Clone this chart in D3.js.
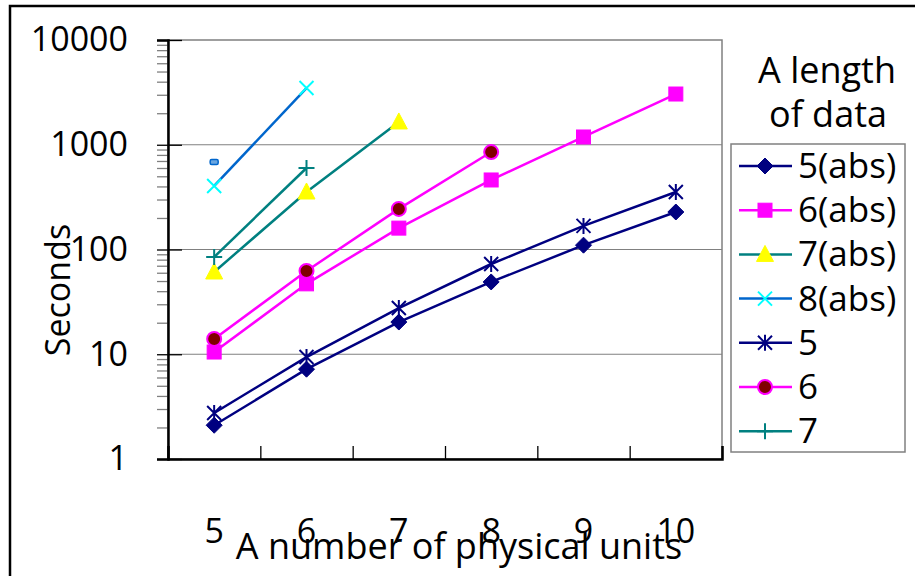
<!DOCTYPE html>
<html>
<head>
<meta charset="utf-8">
<script src="https://cdn.jsdelivr.net/npm/d3@7"></script>
<style>
  body { margin: 0; background: #fff; }
  text { font-family: "Open Sans", sans-serif; fill: #000; }
</style>
</head>
<body>
<script>
var w = 915;
var h = 576;

// ---- data ----
var units = ["5", "6", "7", "8", "9", "10"];
var s5abs = [2.1, 7.2, 20.3, 49, 110, 228];
var s6abs = [10.5, 47, 160, 461, 1186, 3050];
var s7abs = [61, 354, 1650];
var s8abs = [404, 3480];
var s5 = [2.75, 9.4, 27.6, 72.7, 168, 354];
var s6 = [14, 62.4, 244, 852];
var s7 = [84.8, 600];
var s8 = [684];
var yTicks = [1, 10, 100, 1000, 10000];

var series = [
  {name: "5(abs)", values: s5abs, line: "#000080", marker: "diamond", fill: "#000080", stroke: "#000080"},
  {name: "6(abs)", values: s6abs, line: "#FF00FF", marker: "square", fill: "#FF00FF", stroke: "#FF00FF"},
  {name: "7(abs)", values: s7abs, line: "#008080", marker: "triangle", fill: "#FFFF00", stroke: "#FFFF00"},
  {name: "8(abs)", values: s8abs, line: "#0066CC", marker: "x", fill: "none", stroke: "#00FFFF"},
  {name: "5", values: s5, line: "#000080", marker: "star", fill: "none", stroke: "#000080"},
  {name: "6", values: s6, line: "#FF00FF", marker: "circle", fill: "#800000", stroke: "#FF00FF"},
  {name: "7", values: s7, line: "#008080", marker: "plus", fill: "none", stroke: "#008080"},
  {name: "8", values: s8, line: "#0066CC", marker: "dash", fill: "#0066CC", stroke: "#0066CC"}
];

var plotL = 168, plotR = 722, plotT = 40, plotB = 459;

var svg = d3.select("body").append("svg")
    .attr("width", w)
    .attr("height", h);

// outer frame
svg.append("rect")
    .attr("x", 10).attr("y", 6)
    .attr("width", w + 20).attr("height", h + 20)
    .attr("fill", "#fff")
    .attr("stroke", "#000")
    .attr("stroke-width", 2.5);

var x = d3.scaleBand().domain(units).range([plotL, plotR]).padding(0);
var xEdge = d3.scaleLinear().domain([0, units.length]).range([plotL, plotR]);
var y = d3.scaleLog().domain([1, 10000]).range([plotB, plotT]);
function cx(i) { return x(units[i]) + x.bandwidth() / 2; }

// plot area
svg.append("rect")
    .attr("x", plotL).attr("y", plotT)
    .attr("width", plotR - plotL).attr("height", plotB - plotT)
    .attr("fill", "#fff")
    .attr("stroke", "#808080")
    .attr("stroke-width", 1.5);

// gridlines
svg.append("g").selectAll("line")
    .data([10, 100, 1000])
    .enter().append("line")
    .attr("x1", plotL).attr("x2", plotR)
    .attr("y1", function (d) { return y(d); })
    .attr("y2", function (d) { return y(d); })
    .attr("stroke", "#808080")
    .attr("stroke-width", 1.2);

// minor ticks on y
var minor = [];
yTicks.slice(0, -1).forEach(function (t) {
  for (var k = 2; k < 10; k++) minor.push(t * k);
});
svg.append("g")
    .attr("transform", "translate(" + plotL + ",0)")
    .call(d3.axisLeft(y).tickValues(minor).tickSize(11).tickFormat(""))
    .call(function (g) {
      g.select(".domain").remove();
      g.selectAll(".tick line").attr("stroke", "#808080").attr("stroke-width", 1.3);
    });

// major y axis
var yAxis = svg.append("g")
    .attr("transform", "translate(" + plotL + ",0)")
    .call(d3.axisLeft(y).tickValues(yTicks).tickSize(11).tickPadding(29)
      .tickFormat(d3.format("d")));
yAxis.select(".domain").attr("stroke", "#000").attr("stroke-width", 2.5);
yAxis.selectAll(".tick line").attr("x2", 14).attr("x1", -11).attr("stroke", "#000").attr("stroke-width", 1.3);
yAxis.selectAll(".tick text")
    .attr("font-size", 34)
    .attr("font-family", "Open Sans")
    .attr("fill", "#000");

// x axis ticks at category edges
var xAxis = svg.append("g")
    .attr("transform", "translate(0," + plotB + ")")
    .call(d3.axisBottom(xEdge).tickValues(d3.range(1, units.length + 1)).tickSize(-13).tickFormat(""));
xAxis.select(".domain").attr("stroke", "#000").attr("stroke-width", 2.5);
xAxis.selectAll(".tick line").attr("stroke", "#000").attr("stroke-width", 1.3);

// x labels
var xLab = svg.append("g")
    .attr("transform", "translate(0," + plotB + ")")
    .call(d3.axisBottom(x).tickSize(0).tickPadding(60));
xLab.select(".domain").remove();
xLab.selectAll(".tick text")
    .attr("font-size", 34)
    .attr("font-family", "Open Sans")
    .attr("fill", "#000");

// axis titles
svg.append("text")
    .text("A number of physical units")
    .attr("x", 459)
    .attr("y", 559)
    .attr("text-anchor", "middle")
    .attr("font-size", 36);

svg.append("text")
    .text("Seconds")
    .attr("transform", "translate(70,290) rotate(-90)")
    .attr("text-anchor", "middle")
    .attr("font-size", 34);

// markers
function drawMarker(g, type, fill, stroke, px, py) {
  if (type === "diamond") {
    g.append("path").attr("d", "M" + px + "," + (py - 8) + "L" + (px + 8) + "," + py + "L" + px + "," + (py + 8) + "L" + (px - 8) + "," + py + "Z")
      .attr("fill", fill).attr("stroke", stroke);
  } else if (type === "square") {
    g.append("rect").attr("x", px - 7).attr("y", py - 7).attr("width", 14).attr("height", 14)
      .attr("fill", fill).attr("stroke", stroke);
  } else if (type === "triangle") {
    g.append("path").attr("d", "M" + px + "," + (py - 9) + "L" + (px + 8.5) + "," + (py + 7) + "L" + (px - 8.5) + "," + (py + 7) + "Z")
      .attr("fill", fill).attr("stroke", stroke);
  } else if (type === "x") {
    g.append("path").attr("d", "M" + (px - 7) + "," + (py - 7) + "L" + (px + 7) + "," + (py + 7) + "M" + (px + 7) + "," + (py - 7) + "L" + (px - 7) + "," + (py + 7))
      .attr("fill", "none").attr("stroke", stroke).attr("stroke-width", 2);
  } else if (type === "star") {
    g.append("path").attr("d", "M" + (px - 7) + "," + (py - 7) + "L" + (px + 7) + "," + (py + 7) + "M" + (px + 7) + "," + (py - 7) + "L" + (px - 7) + "," + (py + 7) + "M" + px + "," + (py - 8) + "L" + px + "," + (py + 8))
      .attr("fill", "none").attr("stroke", stroke).attr("stroke-width", 2);
  } else if (type === "circle") {
    g.append("circle").attr("cx", px).attr("cy", py).attr("r", 7)
      .attr("fill", fill).attr("stroke", stroke).attr("stroke-width", 2);
  } else if (type === "plus") {
    g.append("path").attr("d", "M" + (px - 8) + "," + py + "L" + (px + 8) + "," + py + "M" + px + "," + (py - 8) + "L" + px + "," + (py + 8))
      .attr("fill", "none").attr("stroke", stroke).attr("stroke-width", 2);
  } else if (type === "dash") {
    g.append("rect").attr("x", px - 4).attr("y", py - 2.5).attr("width", 8).attr("height", 5).attr("rx", 1.5)
      .attr("fill", "#6aa6e0").attr("stroke", stroke).attr("stroke-width", 1.5);
  }
}

var line = d3.line()
    .x(function (d, i) { return cx(i); })
    .y(function (d) { return y(d); });

var lines = svg.append("g");
series.forEach(function (s) {
  lines.append("path")
      .datum(s.values)
      .attr("d", line)
      .attr("fill", "none")
      .attr("stroke", s.line)
      .attr("stroke-width", 2.5);
});
var marks = svg.append("g");
series.forEach(function (s) {
  s.values.forEach(function (v, i) {
    drawMarker(marks, s.marker, s.fill, s.stroke, cx(i), y(v));
  });
});

// legend
svg.append("text").text("A length")
    .attr("x", 827).attr("y", 83)
    .attr("text-anchor", "middle")
    .attr("font-size", 36);
svg.append("text").text("of data")
    .attr("x", 828).attr("y", 127)
    .attr("text-anchor", "middle")
    .attr("font-size", 36);

var legend = svg.append("g");
legend.append("rect")
    .attr("x", 731).attr("y", 144)
    .attr("width", 174).attr("height", 308)
    .attr("fill", "#fff")
    .attr("stroke", "#808080")
    .attr("stroke-width", 1.5);

var shown = series.slice(0, 7);
shown.forEach(function (s, i) {
  var ly = 166 + i * 44.2;
  legend.append("line")
      .attr("x1", 739).attr("x2", 792)
      .attr("y1", ly).attr("y2", ly)
      .attr("stroke", s.line)
      .attr("stroke-width", 2.5);
  drawMarker(legend, s.marker, s.fill, s.stroke, 765, ly);
  legend.append("text")
      .text(s.name)
      .attr("x", 798)
      .attr("y", ly + 12)
      .attr("font-size", 35);
});
</script>
</body>
</html>
